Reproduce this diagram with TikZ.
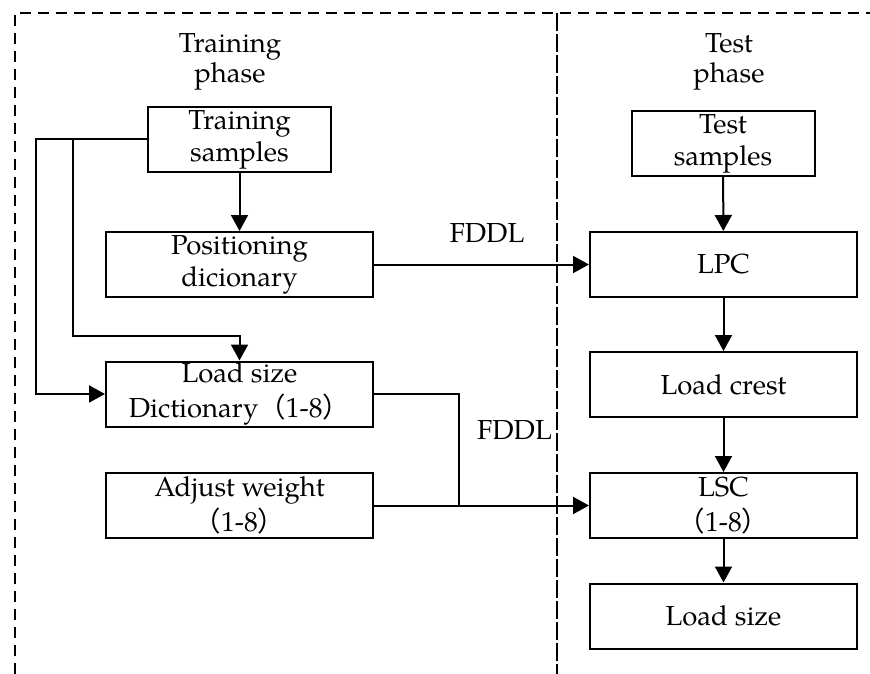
\documentclass[tikz,border=0pt]{standalone}
\usepackage{fontspec}
\setmainfont{TeX Gyre Pagella}
\newfontfamily\cjk{Noto Sans CJK SC}
\usetikzlibrary{arrows.meta}

\newcommand{\fw}[1]{{\cjk（}#1{\cjk）}}

\tikzset{
  base font/.style={font=\fontsize{27.5}{32}\selectfont},
  stage/.style={draw, line width=2pt, align=center, inner sep=0pt, base font},
  roomy/.style={font=\fontsize{27.5}{35}\selectfont},
  smallbox/.style={stage, minimum width=183pt, minimum height=65pt},
  widebox/.style={stage, minimum width=267pt, minimum height=65pt},
  link/.style={line width=2pt},
  arr/.style={link, -{Triangle[length=16pt,width=17pt]}},
  frame/.style={line width=1.5pt, dash pattern=on 11pt off 7pt},
  divider/.style={line width=1.5pt, dash pattern=on 18pt off 3pt},
  heading/.style={align=center, inner sep=0pt, font=\fontsize{27.5}{30}\selectfont},
  tag/.style={inner sep=0pt, base font}
}

\begin{document}
\begin{tikzpicture}[x=1pt, y=-1pt]
  \useasboundingbox (0,0) rectangle (870,674);

  % phase frames
  \draw[frame] (15,674) -- (15,13) -- (870,13);
  \draw[divider] (557,13) -- (557,674);

  % headings
  \node[heading] (htrain) at (230,62) {Training\\phase};
  \node[heading] (htest)  at (729,62) {Test\\phase};

  % training column
  \node[smallbox] (ts) at (239.5,139.5) {Training\\samples};
  \node[widebox]  (pd) at (239.5,264.5) {Positioning\\dicionary};
  \node[widebox, roomy] (ld) at (239.5,394)   {Load size\\Dictionary\fw{1-8}};
  \node[widebox, roomy] (aw) at (239.5,505.5) {Adjust weight\\\fw{1-8}};

  % test column
  \node[smallbox] (tes) at (723,143.5) {Test\\samples};
  \node[widebox]  (lpc) at (723.5,264.5) {LPC};
  \node[widebox]  (lc)  at (723.5,384.5) {Load crest};
  \node[widebox, roomy] (lsc) at (723.5,505.5) {LSC\\\fw{1-8}};
  \node[widebox]  (ls)  at (723.5,616)   {Load size};

  % training-side connectors
  \draw[arr] (ts) -- (pd);
  \draw[arr] (ts.west) -| ([xshift=-69pt]ld.west) -- (ld.west);
  \coordinate (split) at (73,139.5);
  \draw[arr] (split) |- ([yshift=25pt]ld.north) -- (ld.north);

  % dictionaries into the classifiers
  \draw[arr] (pd.east) -- (lpc.west);
  \node[tag, anchor=base] (f1) at (487,242) {FDDL};
  \coordinate (merge) at (459,505.5);
  \draw[link] (ld.east) -| (merge);
  \draw[arr] (aw.east) -- (lsc.west);
  \node[tag, anchor=base east] (f2) at (552,439) {FDDL};

  % test-side chain
  \draw[arr] (tes) -- (lpc);
  \draw[arr] (lpc) -- (lc);
  \draw[arr] (lc) -- (lsc);
  \draw[arr] (lsc) -- (ls);
\end{tikzpicture}
\end{document}
